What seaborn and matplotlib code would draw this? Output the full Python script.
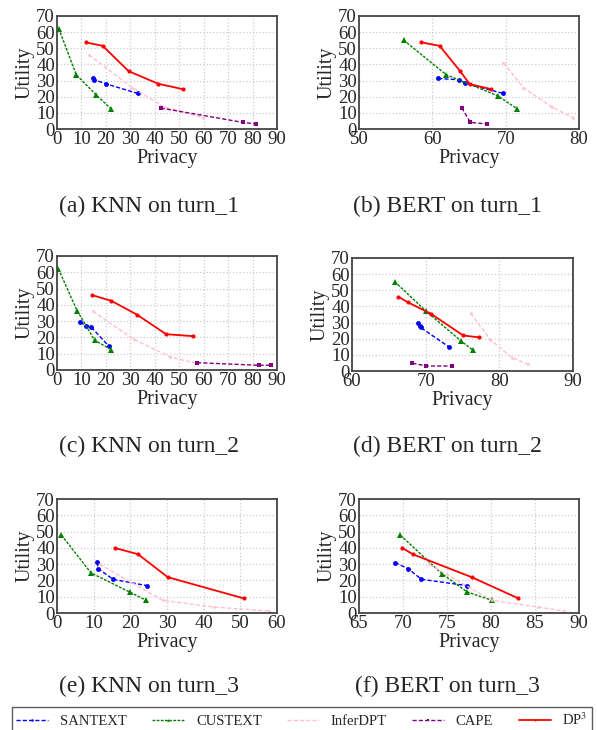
import numpy as np
import pandas as pd
import matplotlib
matplotlib.use('Agg')
import matplotlib.pyplot as plt
import seaborn as sns

# ── data: one inner list per panel (a)..(f) ─────────────────────────────────
captions = ['(a) KNN on turn_1', '(b) BERT on turn_1',
            '(c) KNN on turn_2', '(d) BERT on turn_2',
            '(e) KNN on turn_3', '(f) BERT on turn_3']
x_limits = [(0, 90), (50, 80), (0, 90), (60, 90), (0, 60), (65, 90)]
x_steps = [10, 10, 10, 10, 10, 5]
y_ticks = [0, 10, 20, 30, 40, 50, 60, 70]

santext_privacy = [[14.7, 15.3, 20.0, 33.1], [60.8, 63.7, 64.5, 69.7],
                   [9.5, 11.7, 13.9, 21.1], [69.0, 69.2, 69.3, 73.1],
                   [10.9, 11.3, 15.3, 24.5], [69.1, 70.6, 72.1, 77.3]]
santext_utility = [[31.5, 30.5, 28.0, 22.0], [31.3, 30.5, 28.2, 22.0],
                   [29.5, 27.2, 26.5, 14.8], [30.0, 28.0, 27.0, 15.1],
                   [31.2, 27.1, 20.7, 16.8], [31.0, 27.1, 20.7, 16.8]]

custext_privacy = [[0.7, 7.9, 16.1, 22.2], [56.1, 61.9, 68.9, 71.6],
                   [0.6, 8.2, 15.4, 22.2], [65.8, 70.0, 74.8, 76.4],
                   [1.2, 9.3, 19.8, 24.3], [69.7, 74.4, 77.3, 80.1]]
custext_utility = [[62.2, 33.6, 21.0, 12.4], [55.0, 33.6, 20.6, 12.4],
                   [62.0, 36.5, 18.3, 12.5], [55.3, 37.3, 18.6, 13.0],
                   [47.8, 24.6, 12.9, 7.8], [47.8, 24.2, 12.9, 7.8]]

inferdpt_privacy = [[13.0, 30.7, 44.0, 59.8], [69.7, 72.4, 76.3, 79.2],
                    [14.7, 31.4, 46.4, 57.3], [76.1, 78.8, 81.7, 83.9],
                    [11.6, 28.8, 42.7, 57.8], [73.0, 80.1, 85.3, 88.3]]
inferdpt_utility = [[46.0, 25.7, 13.5, 7.0], [41.0, 25.7, 13.6, 7.0],
                    [36.0, 18.8, 8.0, 4.0], [35.8, 19.3, 8.3, 4.1],
                    [30.0, 7.8, 3.7, 1.2], [29.8, 7.8, 3.7, 1.2]]

cape_privacy = [[42.4, 76.0, 81.4], [64.0, 65.2, 67.4],
                [57.3, 82.5, 87.5], [68.2, 70.1, 73.6], [], []]
cape_utility = [[13.0, 4.1, 3.1], [13.2, 4.1, 3.1],
                [4.5, 2.9, 2.9], [4.8, 3.1, 3.1], [], []]

dp3_privacy = [[11.7, 18.7, 29.3, 41.5, 51.4], [58.5, 61.0, 63.8, 65.1, 68.0],
               [14.3, 22.2, 32.7, 44.6, 55.5], [66.3, 67.6, 70.7, 75.1, 77.3],
               [15.7, 22.1, 30.2, 50.9], [69.9, 71.1, 77.8, 83.1]]
dp3_utility = [[53.7, 51.5, 35.8, 28.0, 24.7], [53.7, 51.5, 35.8, 27.8, 24.7],
               [46.0, 42.5, 34.0, 22.0, 20.8], [46.0, 42.5, 35.5, 22.0, 20.8],
               [40.0, 36.1, 22.0, 9.0], [40.0, 36.1, 22.0, 9.0]]

# ── style ────────────────────────────────────────────────────────────────────
sns.set_theme(style='whitegrid')
plt.rcParams['font.family'] = ['Liberation Serif', 'DejaVu Serif']
plt.rcParams['mathtext.fontset'] = 'stix'

methods = [
    ('SANTEXT', santext_privacy, santext_utility,
     dict(color='blue', marker='o', markersize=3.5, linestyle=(0, (3, 1.5)), lw=1.0)),
    ('CUSTEXT', custext_privacy, custext_utility,
     dict(color='green', marker='^', markersize=4, linestyle=(0, (2, 1)), lw=1.0)),
    ('InferDPT', inferdpt_privacy, inferdpt_utility,
     dict(color='pink', marker='*', markersize=3.5, linestyle=(0, (3, 1.5)), lw=1.0)),
    ('CAPE', cape_privacy, cape_utility,
     dict(color='purple', marker='s', markersize=3, linestyle=(0, (3, 1.5)), lw=1.0)),
    ('DP$^3$', dp3_privacy, dp3_utility,
     dict(color='red', marker='o', markersize=3, linestyle='-', lw=1.3)),
]

W, H = 597, 730
# axes boxes in pixels: left, right, top, bottom
boxes = [(57, 277, 16, 129), (359, 579, 16, 129),
         (57, 277, 256, 370), (352, 573, 258, 371),
         (57, 277, 499, 613), (359, 579, 499, 613)]
caption_y = [206, 206, 446, 446, 686, 686]
caption_x = [0.25, 0.75] * 3

fig = plt.figure(figsize=(W / 100, H / 100), dpi=100)

handles = {}
for i, (l, r, t, b) in enumerate(boxes):
    ax = fig.add_axes([l / W, 1 - b / H, (r - l) / W, (b - t) / H])
    for name, xs, ys, kw in methods:
        if not xs[i]:
            continue
        df = pd.DataFrame({'Privacy': xs[i], 'Utility': ys[i]})
        sns.lineplot(data=df, x='Privacy', y='Utility', ax=ax,
                     sort=False, estimator=None, markeredgewidth=0, **kw)
        handles.setdefault(name, ax.lines[-1])
    x0, x1 = x_limits[i]
    ax.set_xlim(x0, x1)
    ax.set_ylim(0, 70)
    ax.set_xticks(np.arange(x0, x1 + 1, x_steps[i]))
    ax.set_yticks(y_ticks)
    ax.tick_params(labelsize=13.5, length=0, pad=1.5)
    ax.set_xlabel('Privacy', fontsize=14.5, labelpad=0.5)
    ax.set_ylabel('Utility', fontsize=14.5, labelpad=1.5)
    ax.grid(True, color='#cccccc', linestyle=':', linewidth=0.9)
    for sp in ax.spines.values():
        sp.set_color('#444444')
        sp.set_linewidth(1.3)
    fig.text(caption_x[i], 1 - caption_y[i] / H, captions[i],
             ha='center', va='center', fontsize=17)

names = [m[0] for m in methods]
fig.legend([handles[n] for n in names], names,
           loc='upper left', bbox_to_anchor=(12 / W, 1 - 707 / H - 0.05, 580 / W, 0.05),
           mode='expand', ncol=5, fontsize=10.5, frameon=True, fancybox=False,
           edgecolor='#333333', handlelength=2.2, handletextpad=0.8,
           markerscale=0.5, borderpad=0.3, borderaxespad=0, numpoints=1)

plt.savefig('out.png', dpi=100)
